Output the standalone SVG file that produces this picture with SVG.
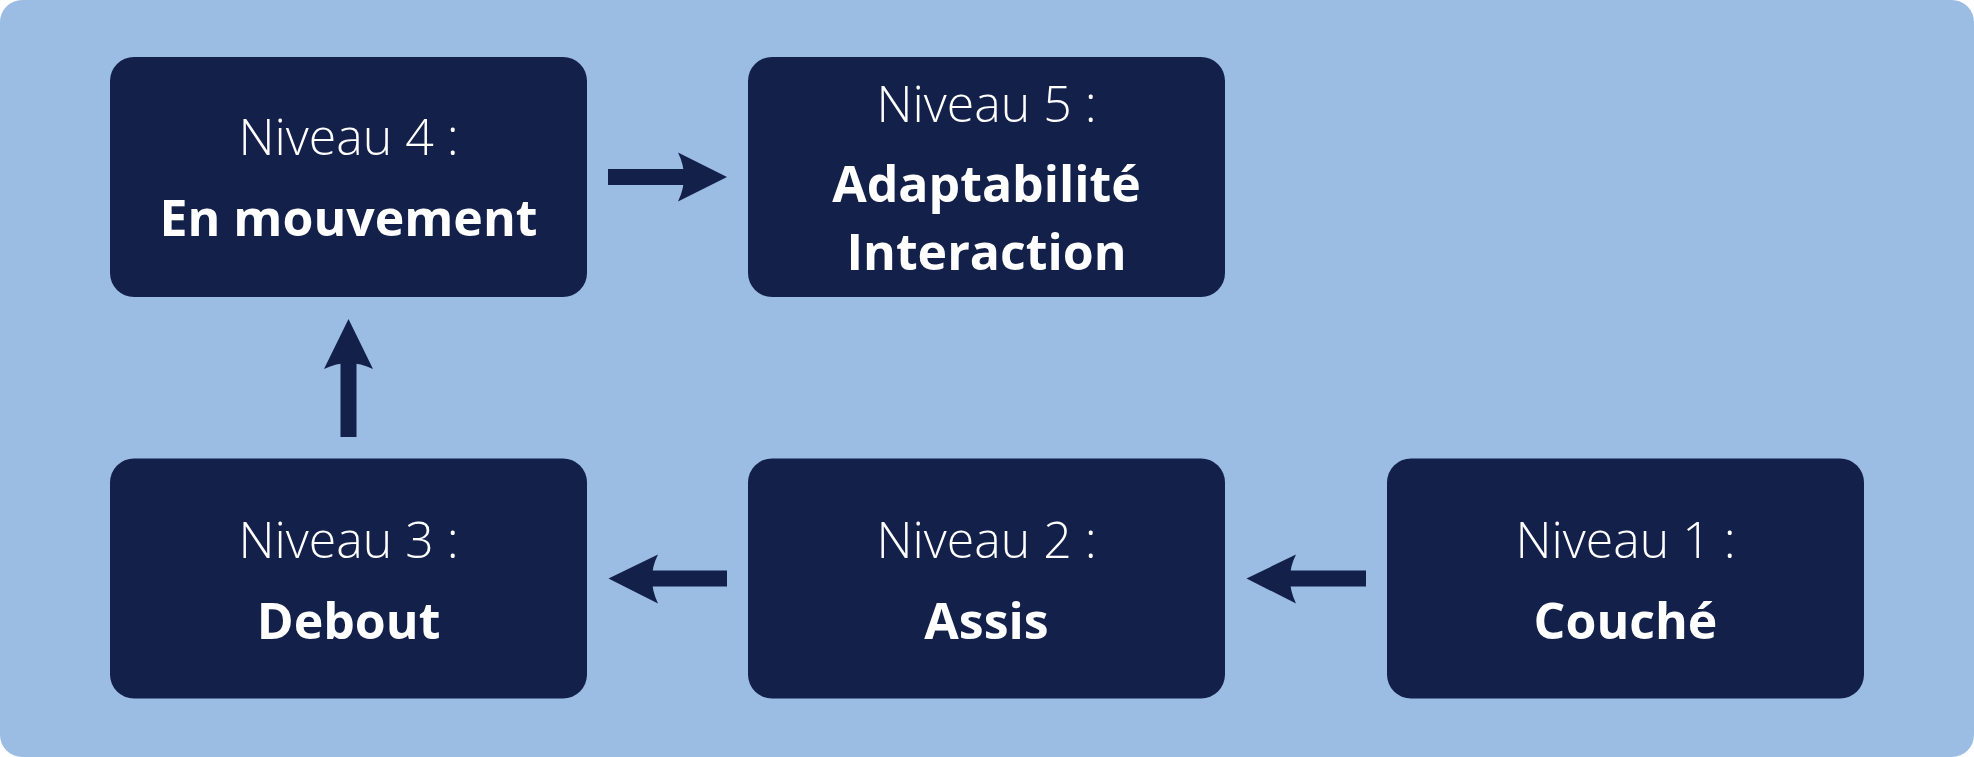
<svg xmlns="http://www.w3.org/2000/svg" width="1974" height="757" viewBox="0 0 1974 757">
<style>
.bg{fill:#9bbde3}
.box{fill:#13204a}
.t1{font-family:"Open Sans","Noto Sans","Liberation Sans",sans-serif;font-weight:350;font-size:50px;fill:#ffffff;text-anchor:middle}
.t2{font-family:"Open Sans","Noto Sans","Liberation Sans",sans-serif;font-weight:700;font-size:50px;fill:#ffffff;text-anchor:middle}
.arr{fill:#13204a}
</style>
<rect class="bg" x="0" y="0" width="1974" height="757" rx="22"/>
<g id="node-niveau4">
<rect class="box" x="110" y="57" width="477" height="240" rx="24"/>
<text class="t1" x="348.5" y="155">Niveau 4 :</text>
<text class="t2" x="348.5" y="236">En mouvement</text>
</g>
<g id="node-niveau5">
<rect class="box" x="748" y="57" width="477" height="240" rx="24"/>
<text class="t1" x="986.5" y="121.5">Niveau 5 :</text>
<text class="t2" x="986.5" y="201.5">Adaptabilité</text>
<text class="t2" x="986.5" y="270">Interaction</text>
</g>
<g id="node-niveau3">
<rect class="box" x="110" y="458.5" width="477" height="240" rx="24"/>
<text class="t1" x="348.5" y="557.5">Niveau 3 :</text>
<text class="t2" x="348.5" y="638.5">Debout</text>
</g>
<g id="node-niveau2">
<rect class="box" x="748" y="458.5" width="477" height="240" rx="24"/>
<text class="t1" x="986.5" y="557.5">Niveau 2 :</text>
<text class="t2" x="986.5" y="638.5">Assis</text>
</g>
<g id="node-niveau1">
<rect class="box" x="1387" y="458.5" width="477" height="240" rx="24"/>
<text class="t1" x="1625.5" y="557.5">Niveau 1 :</text>
<text class="t2" x="1625.5" y="638.5">Couché</text>
</g>
<g id="connectors">
<!-- 4 -> 5 -->
<path class="arr" d="M608,169 L686,169 L686,185 L608,185 Z"/>
<path class="arr" d="M727,177 L678,152.5 Q690,177 678,201.5 Z"/>
<!-- 3 -> 4 -->
<path class="arr" d="M340.5,437 L340.5,362 L356.5,362 L356.5,437 Z"/>
<path class="arr" d="M348.5,319 L324,369 Q348.5,357 373,369 Z"/>
<!-- 2 -> 3 -->
<path class="arr" d="M727,570.5 L650,570.5 L650,586.5 L727,586.5 Z"/>
<path class="arr" d="M608.5,578.5 L658,554.5 Q646,578.5 658,603.5 Z"/>
<!-- 1 -> 2 -->
<path class="arr" d="M1366,570.5 L1289,570.5 L1289,586.5 L1366,586.5 Z"/>
<path class="arr" d="M1246.5,578.5 L1296,554.5 Q1284,578.5 1296,603.5 Z"/>
</g>
</svg>
